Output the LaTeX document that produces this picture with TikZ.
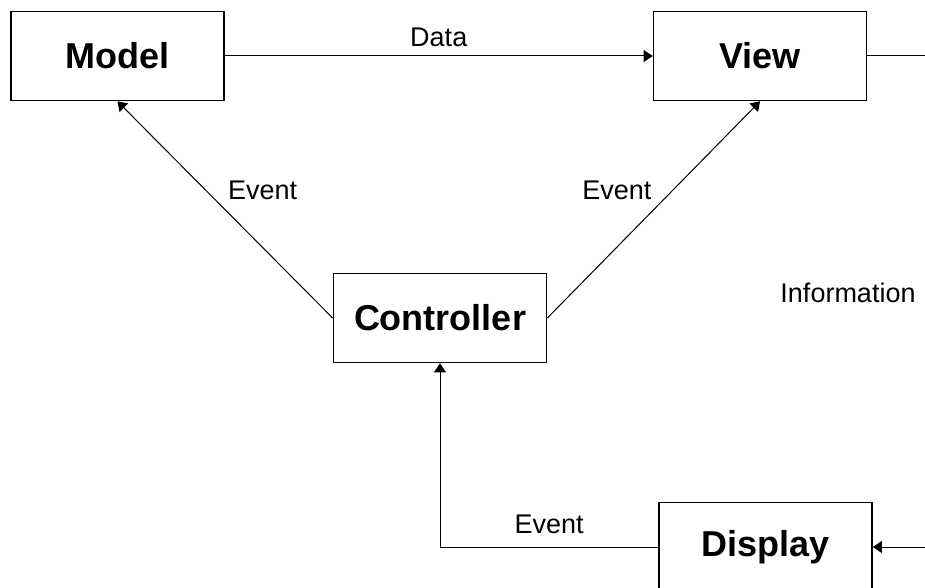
\documentclass[tikz,border=0pt]{standalone}
\usepackage{fontspec}
\setmainfont{Liberation Sans}
\usetikzlibrary{arrows.meta}

\begin{document}
\begin{tikzpicture}[x=1pt,y=-1pt,line width=1pt,>={Triangle[length=9pt,width=12pt]},
                    box/.style={draw,line width=1.7pt,minimum width=213pt,minimum height=89pt,inner sep=0pt,font=\fontsize{36}{40}\selectfont\bfseries},
                    lbl/.style={inner sep=0pt,font=\fontsize{27}{30}\selectfont}]
                     \useasboundingbox(0,0)rectangle(925,588);
                     \node[box](model)at(117.5,56){Model};
                     \node[box](view) at(760,56)  {View};
                     \node[box](ctrl) at(440,318) {Controller};
                     \node[box](disp) at(765.5,547){Display};
                     \node[lbl](info) at(848,293) {Information};
                     \coordinate(outR)at(925,56);
                     \coordinate(inR) at(925,547);
                     % the triangle
                     \draw[->](model)--(view)           node[lbl,midway,anchor=base,yshift=9pt]{Data};
                     \draw[->](ctrl.west)--(model.south) node[lbl,pos=.59,anchor=west,xshift=22pt]{Event};
                     \draw[->](ctrl.east)--(view.south)  node[lbl,pos=.59,anchor=east,xshift=-21pt]{Event};
                     % screen side
                     \draw(view.east)--(outR);
                     \draw[->](inR)--(disp.east);
                     \draw[->](disp.west)-|(ctrl.south)  node[lbl,pos=.25,anchor=base,yshift=14pt]{Event};
                 \end{tikzpicture}
\end{document}
